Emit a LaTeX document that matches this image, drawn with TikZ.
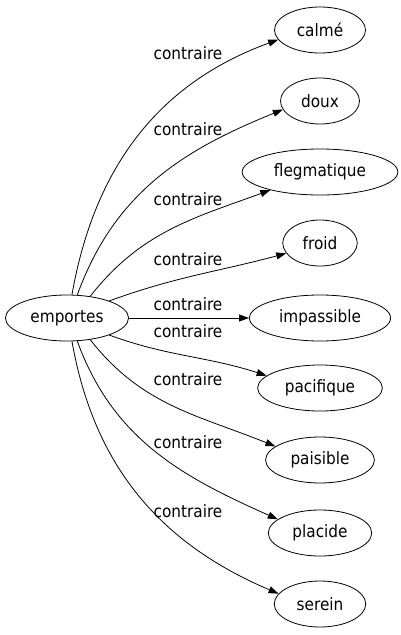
\documentclass[tikz,border=0pt]{standalone}
\usepackage{fontspec}
\setmainfont{DejaVu Sans}[FakeStretch=0.9]
\usetikzlibrary{arrows.meta,shapes.geometric}
\tikzset{
  word/.style={draw, ellipse, line width=.8pt, inner xsep=9pt, inner ysep=2pt, minimum height=46pt, font=\fontsize{17}{20}\selectfont},
  ln/.style  ={draw, line width=.8pt, -{Triangle[length=10pt,width=7pt]}},
  tag/.style ={font=\fontsize{17}{20}\selectfont, inner sep=0pt},
}
\begin{document}
\begin{tikzpicture}[x=1pt,y=1pt]
    \useasboundingbox (0,0) rectangle (401,-635);
    \node[word,inner xsep=7pt] (emp) at (67,-318) {emportes};
    \node[word] (calme) at (320,-30)  {calmé};
    \node[word] (doux)  at (320,-101) {doux};
    \node[word] (fleg)  at (320,-172) {flegmatique};
    \node[word] (froid) at (320,-243) {froid};
    \node[word] (imp)   at (320,-318) {impassible};
    \node[word] (paci)  at (320,-388) {pacifique};
    \node[word] (pais)  at (320,-460) {paisible};
    \node[word] (plac)  at (320,-533) {placide};
    \node[word] (ser)   at (320,-604) {serein};
    \node[tag] (t1) at (188,-53)  {contraire};
    \node[tag] (t2) at (188,-129) {contraire};
    \node[tag] (t3) at (188,-199) {contraire};
    \node[tag] (t4) at (188,-259) {contraire};
    \node[tag] (t5) at (188,-304) {contraire};
    \node[tag] (t6) at (188,-331) {contraire};
    \node[tag] (t7) at (188,-379) {contraire};
    \node[tag] (t8) at (188,-442) {contraire};
    \node[tag] (t9) at (188,-511) {contraire};
    \draw[ln] (emp.78)  to[out=80,in=200]  (calme.193);
    \draw[ln] (emp.66)  to[out=70,in=202]  (doux.193);
    \draw[ln] (emp.43)  to[out=52,in=200]  (fleg.200);
    \draw[ln] (emp.22)  to[out=20,in=195]  (froid.197);
    \draw[ln] (emp) -- (imp);
    \draw[ln] (emp.-22) to[out=-20,in=162] (paci.167);
    \draw[ln] (emp.-43) to[out=-52,in=158] (pais.163);
    \draw[ln] (emp.-66) to[out=-70,in=156] (plac.162);
    \draw[ln] (emp.-78) to[out=-80,in=157] (ser.166);
\end{tikzpicture}
\end{document}
